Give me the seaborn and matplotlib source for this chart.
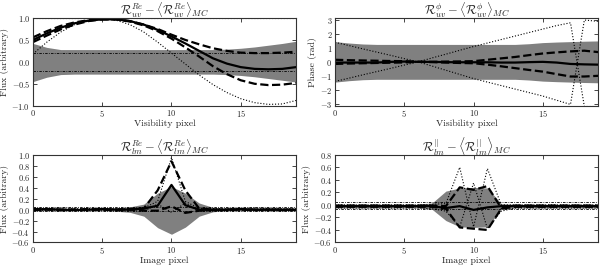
import numpy as np
import matplotlib
matplotlib.use("Agg")
import matplotlib.pyplot as plt
import seaborn as sns

# pixel index shared by all panels
pix = np.arange(20)

# top left: real part, visibility space
uv_re_solid = [0.50, 0.65, 0.78, 0.88, 0.94, 0.97, 0.97, 0.93, 0.85, 0.73,
               0.58, 0.42, 0.25, 0.08, -0.04, -0.12, -0.16, -0.17, -0.16, -0.12]
uv_re_dash_hi = [0.56, 0.70, 0.82, 0.90, 0.95, 0.97, 0.97, 0.93, 0.85, 0.75,
                 0.62, 0.50, 0.40, 0.31, 0.25, 0.21, 0.20, 0.20, 0.21, 0.23]
uv_re_dash_lo = [0.45, 0.60, 0.74, 0.85, 0.93, 0.97, 0.97, 0.92, 0.83, 0.70,
                 0.53, 0.33, 0.12, -0.10, -0.28, -0.42, -0.50, -0.53, -0.52, -0.48]
uv_re_dot = [0.18, 0.45, 0.68, 0.85, 0.95, 0.99, 0.95, 0.85, 0.68, 0.45,
             0.20, -0.05, -0.30, -0.52, -0.70, -0.84, -0.93, -0.97, -0.96, -0.88]
uv_re_band_hi = [0.42, 0.33, 0.28, 0.28, 0.28, 0.28, 0.28, 0.28, 0.28, 0.28,
                 0.28, 0.28, 0.28, 0.28, 0.29, 0.31, 0.34, 0.38, 0.42, 0.47]
uv_re_band_lo = [-0.45, -0.35, -0.29, -0.28, -0.28, -0.28, -0.28, -0.28, -0.28, -0.28,
                 -0.28, -0.28, -0.28, -0.28, -0.29, -0.31, -0.34, -0.38, -0.42, -0.46]
uv_re_hlines = [0.2, -0.2]

# top right: phase, visibility space
uv_ph_solid = [-0.05, -0.05, -0.05, -0.05, 0.0, 0.02, 0.0, 0.0, -0.02, -0.03,
               -0.03, -0.03, -0.05, -0.05, -0.02, 0.0, -0.05, -0.15, -0.18, -0.2]
uv_ph_dash_hi = [0.15, 0.12, 0.10, 0.08, 0.06, 0.05, 0.0, 0.0, 0.02, 0.03,
                 0.05, 0.15, 0.25, 0.35, 0.48, 0.60, 0.68, 0.75, 0.80, 0.70]
uv_ph_dash_lo = [-0.15, -0.12, -0.10, -0.08, -0.06, -0.04, 0.0, -0.02, -0.05, -0.08,
                 -0.10, -0.20, -0.32, -0.45, -0.58, -0.70, -0.88, -1.05, -1.05, -1.00]
uv_ph_dot_a = [1.40, 1.17, 0.93, 0.70, 0.47, 0.23, 0.0, -0.30, -0.60, -0.90,
               -1.20, -1.45, -1.70, -1.95, -2.20, -2.45, -2.75, -3.05, 3.00, 2.90]
uv_ph_dot_b = [-1.40, -1.17, -0.93, -0.70, -0.47, -0.23, 0.0, 0.28, 0.55, 0.83,
               1.10, 1.35, 1.60, 1.85, 2.10, 2.35, 2.60, 2.80, -3.20, -3.20]
uv_ph_band_hi = [1.45, 1.35, 1.28, 1.25, 1.25, 1.25, 1.25, 1.25, 1.25, 1.25,
                 1.25, 1.25, 1.25, 1.25, 1.30, 1.38, 1.42, 1.45, 1.48, 1.50]
uv_ph_band_lo = [-1.45, -1.35, -1.28, -1.25, -1.25, -1.25, -1.25, -1.25, -1.25, -1.25,
                 -1.25, -1.25, -1.25, -1.25, -1.30, -1.38, -1.42, -1.45, -1.48, -1.50]

# bottom left: real part, image space
lm_re_solid = [0.0, 0.01, 0.0, -0.01, 0.0, 0.01, 0.0, 0.0, 0.02, 0.07,
               0.45, 0.08, 0.0, -0.01, 0.0, 0.01, 0.0, 0.0, 0.0, -0.01]
lm_re_dash_a = [0.01, 0.01, 0.0, 0.0, 0.01, 0.0, 0.0, 0.01, 0.02, 0.35,
                0.88, 0.35, 0.02, 0.0, 0.0, 0.01, 0.0, 0.0, 0.0, 0.0]
lm_re_dash_b = [-0.01, 0.0, -0.01, 0.0, -0.01, 0.0, -0.01, 0.0, -0.02, -0.02,
                0.06, -0.06, -0.02, 0.0, -0.01, 0.0, -0.01, 0.0, -0.01, 0.0]
lm_re_dot_a = [0.02, 0.02, 0.03, 0.02, 0.02, 0.02, 0.02, 0.02, 0.03, 0.15,
               0.95, 0.15, 0.02, 0.02, 0.02, 0.02, 0.03, 0.02, 0.02, 0.02]
lm_re_dot_b = [-0.02, -0.02, -0.02, -0.02, -0.02, -0.02, -0.02, -0.02, -0.03, 0.10,
               -0.05, 0.12, -0.03, -0.02, -0.02, -0.02, -0.02, -0.02, -0.02, -0.02]
lm_re_band_hi = [0.02, 0.02, 0.02, 0.02, 0.02, 0.02, 0.03, 0.05, 0.10, 0.30,
                 0.42, 0.30, 0.12, 0.04, 0.02, 0.02, 0.02, 0.02, 0.02, 0.02]
lm_re_band_lo = [-0.02, -0.02, -0.02, -0.02, -0.02, -0.02, -0.03, -0.05, -0.12, -0.33,
                 -0.45, -0.32, -0.12, -0.04, -0.02, -0.02, -0.02, -0.02, -0.02, -0.02]
lm_re_hlines = [0.04, -0.03]

# bottom right: polarised part, image space
lm_p_solid = [-0.02, -0.02, -0.02, -0.02, -0.02, -0.02, -0.02, -0.02, -0.05, -0.02,
              -0.08, -0.04, -0.02, -0.02, -0.02, -0.02, -0.02, -0.02, -0.02, -0.02]
lm_p_dash_hi = [-0.01, -0.01, -0.01, -0.01, -0.01, -0.01, -0.01, -0.01, -0.02, 0.28,
                0.24, 0.30, -0.05, -0.01, -0.01, -0.01, -0.01, -0.01, -0.01, -0.01]
lm_p_dash_lo = [-0.03, -0.03, -0.03, -0.03, -0.03, -0.03, -0.03, -0.03, -0.06, -0.36,
                -0.38, -0.40, -0.06, -0.03, -0.03, -0.03, -0.03, -0.03, -0.03, -0.03]
lm_p_dot_a = [0.0, 0.0, 0.0, 0.0, 0.0, 0.0, 0.0, 0.01, 0.02, 0.60,
              -0.35, 0.58, 0.0, 0.0, 0.0, 0.0, 0.0, 0.0, 0.0, 0.0]
lm_p_dot_b = [-0.05, -0.05, -0.05, -0.05, -0.05, -0.05, -0.05, -0.06, -0.10, -0.35,
              0.35, -0.38, -0.10, -0.05, -0.05, -0.05, -0.05, -0.05, -0.05, -0.05]
lm_p_band_hi = [0.01, 0.01, 0.01, 0.01, 0.01, 0.01, 0.01, 0.03, 0.22, 0.27,
                0.28, 0.27, 0.02, 0.01, 0.01, 0.01, 0.01, 0.01, 0.01, 0.01]
lm_p_band_lo = [-0.05, -0.05, -0.05, -0.05, -0.05, -0.05, -0.05, -0.07, -0.25, -0.35,
                -0.36, -0.35, -0.07, -0.05, -0.05, -0.05, -0.05, -0.05, -0.05, -0.05]
lm_p_hlines = [0.04, -0.06]

sns.set_style("ticks")
plt.rcParams["font.family"] = ["cmr10", "DejaVu Serif"]
plt.rcParams["mathtext.fontset"] = "cm"
plt.rcParams["axes.formatter.use_mathtext"] = True


def draw_panel(ax, band_lo, band_hi, solid, dashes, dots, hlines,
               title, xlabel, ylabel, ylim, yticks, yfmt):
    ax.fill_between(pix, band_lo, band_hi, color="#808080", lw=0)
    for y in hlines:
        ax.axhline(y, color="k", lw=0.6, dashes=(3, 1.5, 1, 1.5))
    for d in dots:
        sns.lineplot(x=pix, y=d, ax=ax, color="k", lw=0.8, linestyle=":")
    for d in dashes:
        sns.lineplot(x=pix, y=d, ax=ax, color="k", lw=1.6, linestyle="--")
    sns.lineplot(x=pix, y=solid, ax=ax, color="k", lw=1.6)
    ax.set_xlim(0, 19)
    ax.set_ylim(*ylim)
    ax.set_xticks([0, 5, 10, 15])
    ax.set_xticklabels([f"${v}$" for v in [0, 5, 10, 15]])
    ax.set_yticks(yticks)
    ax.set_yticklabels(["$" + yfmt.format(v) + "$" for v in yticks])
    ax.set_title(title, fontsize=9, pad=2)
    ax.set_xlabel(xlabel, fontsize=7, labelpad=0)
    ax.set_ylabel(ylabel, fontsize=7, labelpad=2)
    ax.tick_params(direction="in", top=True, right=True, labelsize=6,
                   length=3, width=0.6, pad=2)
    for s in ax.spines.values():
        s.set_linewidth(0.8)
        s.set_color("#333333")


fig, axs = plt.subplots(2, 2, figsize=(6, 2.65), dpi=100)
fig.subplots_adjust(left=0.055, right=0.997, bottom=0.085, top=0.932,
                    wspace=0.148, hspace=0.56)

draw_panel(axs[0, 0], uv_re_band_lo, uv_re_band_hi, uv_re_solid,
           [uv_re_dash_hi, uv_re_dash_lo], [uv_re_dot], uv_re_hlines,
           r"$\mathcal{R}^{Re}_{uv} - \langle \mathcal{R}^{Re}_{uv} \rangle_{MC}$",
           "Visibility pixel", "Flux (arbitrary)", (-1.0, 1.0),
           [-1.0, -0.5, 0.0, 0.5, 1.0], "{:.1f}")
axs[0, 0].axhline(1.0, color="k", ls=":", lw=0.8)

draw_panel(axs[0, 1], uv_ph_band_lo, uv_ph_band_hi, uv_ph_solid,
           [uv_ph_dash_hi, uv_ph_dash_lo], [uv_ph_dot_a, uv_ph_dot_b], [],
           r"$\mathcal{R}^{\phi}_{uv} - \langle \mathcal{R}^{\phi}_{uv} \rangle_{MC}$",
           "Visibility pixel", "Phase (rad)", (-np.pi, np.pi),
           [-3, -2, -1, 0, 1, 2, 3], "{:d}")

draw_panel(axs[1, 0], lm_re_band_lo, lm_re_band_hi, lm_re_solid,
           [lm_re_dash_a, lm_re_dash_b], [lm_re_dot_a, lm_re_dot_b], lm_re_hlines,
           r"$\mathcal{R}^{Re}_{lm} - \langle \mathcal{R}^{Re}_{lm} \rangle_{MC}$",
           "Image pixel", "Flux (arbitrary)", (-0.6, 1.0),
           [-0.6, -0.4, -0.2, 0.0, 0.2, 0.4, 0.6, 0.8, 1.0], "{:.1f}")

draw_panel(axs[1, 1], lm_p_band_lo, lm_p_band_hi, lm_p_solid,
           [lm_p_dash_hi, lm_p_dash_lo], [lm_p_dot_a, lm_p_dot_b], lm_p_hlines,
           r"$\mathcal{R}^{||}_{lm} - \left\langle \mathcal{R}^{||}_{lm} \right\rangle_{MC}$",
           "Image pixel", "Flux (arbitrary)", (-0.6, 0.8),
           [-0.6, -0.4, -0.2, 0.0, 0.2, 0.4, 0.6, 0.8], "{:.1f}")

fig.savefig("out.png", dpi=100)
